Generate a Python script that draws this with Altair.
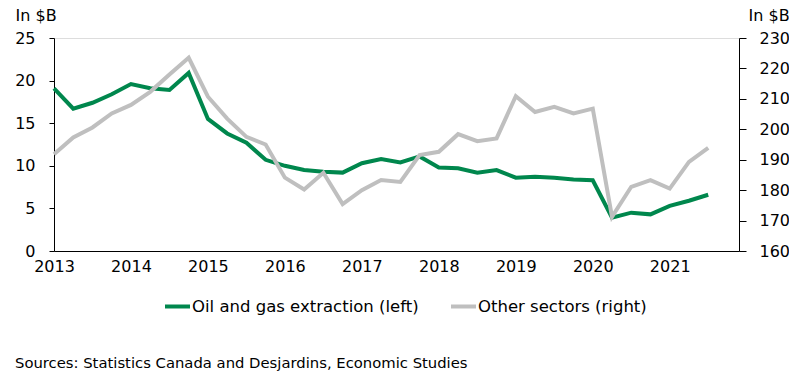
import altair as alt
import pandas as pd

quarters = [
    "2013Q1", "2013Q2", "2013Q3", "2013Q4",
    "2014Q1", "2014Q2", "2014Q3", "2014Q4",
    "2015Q1", "2015Q2", "2015Q3", "2015Q4",
    "2016Q1", "2016Q2", "2016Q3", "2016Q4",
    "2017Q1", "2017Q2", "2017Q3", "2017Q4",
    "2018Q1", "2018Q2", "2018Q3", "2018Q4",
    "2019Q1", "2019Q2", "2019Q3", "2019Q4",
    "2020Q1", "2020Q2", "2020Q3", "2020Q4",
    "2021Q1", "2021Q2", "2021Q3",
]
oil_gas = [
    19.1, 16.7, 17.4, 18.4,
    19.6, 19.1, 18.9, 20.9,
    15.5, 13.8, 12.7, 10.7,
    10.0, 9.5, 9.3, 9.2,
    10.3, 10.8, 10.4, 11.1,
    9.8, 9.7, 9.2, 9.5,
    8.6, 8.7, 8.6, 8.4,
    8.3, 3.9, 4.5, 4.3,
    5.3, 5.9, 6.6,
]
other = [
    191.8, 197.3, 200.6, 205.2,
    208.0, 212.3, 218.0, 223.5,
    210.7, 203.5, 197.5, 195.0,
    184.1, 180.2, 185.7, 175.4,
    180.0, 183.3, 182.7, 191.5,
    192.6, 198.4, 196.1, 197.0,
    210.9, 205.7, 207.4, 205.2,
    206.8, 171.2, 181.1, 183.3,
    180.5, 189.3, 193.9,
]
series_names = ["Oil and gas extraction (left)", "Other sectors (right)"]
series_colors = ["#00874D", "#BFBFBF"]
year_ticks = [2013, 2014, 2015, 2016, 2017, 2018, 2019, 2020, 2021]
left_ticks = [0, 5, 10, 15, 20, 25]
right_ticks = [160, 170, 180, 190, 200, 210, 220, 230]

def to_year(q):
    return int(q[:4]) + (int(q[-1]) - 1) / 4.0

t = [to_year(q) for q in quarters]
df_oil = pd.DataFrame({"t": t, "value": oil_gas, "series": series_names[0]})
df_other = pd.DataFrame({"t": t, "value": other, "series": series_names[1]})

FONT = "DejaVu Sans"
NUM = 16

x_enc = alt.X(
    "t:Q",
    scale=alt.Scale(domain=[2013, 2021.9], nice=False, zero=False),
    axis=alt.Axis(
        values=year_ticks, format="d", ticks=False, tickSize=0, labelPadding=7,
        grid=False, title=None, domainColor="black", labelFlush=False,
        labelOverlap=False, labelFontSize=NUM, labelColor="black", labelFont=FONT,
    ),
)

color_enc = alt.Color(
    "series:N",
    scale=alt.Scale(domain=series_names, range=series_colors),
    legend=alt.Legend(
        title=None, orient="none", legendX=109, legendY=254, direction="horizontal",
        symbolType="stroke", symbolStrokeWidth=4, symbolSize=625, labelOffset=0,
        columnPadding=24, labelFontSize=16.5, labelFont=FONT, labelColor="black",
        labelLimit=0,
    ),
)

oil_line = alt.Chart(df_oil).mark_line(strokeWidth=4).encode(
    x=x_enc,
    y=alt.Y(
        "value:Q",
        scale=alt.Scale(domain=[0, 25], nice=False),
        axis=alt.Axis(
            values=left_ticks, orient="left", tickSize=5, labelPadding=14, grid=False,
            domainColor="black", tickColor="black", labelFontSize=NUM, labelColor="black",
            labelFont=FONT, title="In $B", titleAngle=0, titleAlign="left",
            titleBaseline="alphabetic", titleX=-39, titleY=-18, titleFontSize=16,
            titleFontWeight="normal", titleFont=FONT, titleColor="black",
        ),
    ),
    color=color_enc,
)

other_line = alt.Chart(df_other).mark_line(strokeWidth=4).encode(
    x=x_enc,
    y=alt.Y(
        "value:Q",
        scale=alt.Scale(domain=[160, 230], nice=False, zero=False),
        axis=alt.Axis(
            values=right_ticks, orient="right", tickSize=7, labelPadding=13, grid=False,
            domainColor="black", tickColor="black", labelFontSize=NUM, labelColor="black",
            labelFont=FONT, title="In $B", titleAngle=0, titleAlign="left",
            titleBaseline="alphabetic", titleX=9, titleY=-18, titleFontSize=16,
            titleFontWeight="normal", titleFont=FONT, titleColor="black",
        ),
    ),
    color=color_enc,
)

chart = (
    alt.layer(oil_line, other_line)
    .resolve_scale(y="independent")
    .properties(
        width=685,
        height=213,
        autosize=alt.AutoSizeParams(type="none"),
        padding={"left": 46, "top": 30, "right": 50, "bottom": 120},
        title=alt.TitleParams(
            text="Sources: Statistics Canada and Desjardins, Economic Studies",
            orient="bottom", anchor="start", frame="group", dx=-39, offset=41,
            fontSize=14.8, font=FONT, fontWeight="normal", color="black",
        ),
    )
    .configure_view(stroke=None)
    .configure(background="white")
)

chart.save("out.html", embed_options={"renderer": "svg", "actions": False})
